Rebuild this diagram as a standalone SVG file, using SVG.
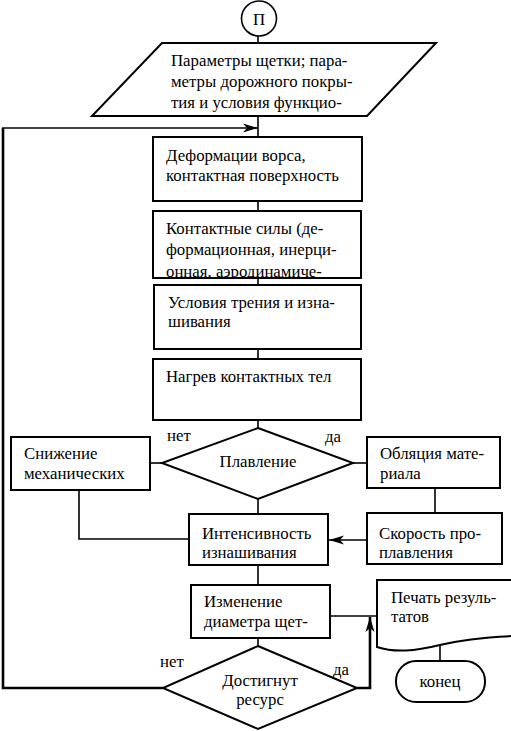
<svg xmlns="http://www.w3.org/2000/svg" width="511" height="731" viewBox="0 0 511 731" font-family="'Liberation Serif', 'DejaVu Serif', serif" font-size="16.8">
<style>
.box{fill:#fff;stroke:#000;stroke-width:2}
.ln{fill:none;stroke:#000;stroke-width:1.6}
.thick{fill:none;stroke:#000;stroke-width:2.6}
text{font-family:'Liberation Serif','DejaVu Serif',serif;font-size:16.8px;fill:#000}
.c{text-anchor:middle}
</style>
<defs>
<marker id="ah" markerUnits="userSpaceOnUse" markerWidth="16" markerHeight="10" refX="15" refY="5" orient="auto">
<path d="M0,0.5 L15,5 L0,9.5 L4,5 Z" fill="#000"/>
</marker>
<clipPath id="cl2"><rect x="154" y="212" width="206" height="65"/></clipPath>
</defs>
<rect width="511" height="731" fill="#fff"/>
<g id="connectors">
<line class="ln" x1="258" y1="36" x2="258" y2="43"/>
<line class="ln" x1="258" y1="116" x2="258" y2="137"/>
<line class="ln" x1="258" y1="201" x2="258" y2="211"/>
<line class="ln" x1="258" y1="278" x2="258" y2="285"/>
<line class="ln" x1="258" y1="349" x2="258" y2="359"/>
<line class="ln" x1="258" y1="420" x2="258" y2="428"/>
<line class="ln" x1="162" y1="463" x2="150" y2="463"/>
<line class="ln" x1="353" y1="463" x2="367" y2="463"/>
<line class="ln" x1="435" y1="488" x2="435" y2="513"/>
<line class="ln" x1="258" y1="499" x2="258" y2="514"/>
<polyline class="ln" points="79,490 79,539 189,539"/>
<line class="ln" x1="367" y1="540" x2="329" y2="540" marker-end="url(#ah)"/>
<line class="ln" x1="258" y1="565" x2="258" y2="585"/>
<line class="ln" x1="258" y1="638" x2="258" y2="646"/>
<line class="ln" x1="330" y1="616" x2="377" y2="616"/>
<polyline class="thick" points="357,688 370,688 370,617" marker-end="url(#ah)"/>
<polyline class="thick" points="163,688 3,688 3,128"/>
<line class="ln" x1="2" y1="128" x2="258" y2="128" stroke-width="2" marker-end="url(#ah)"/>
<line class="ln" x1="440" y1="646" x2="440" y2="661"/>
</g>
<g id="start">
<circle cx="259" cy="18.5" r="17.5" fill="#fff" stroke="#000" stroke-width="1.6"/>
<text class="c" x="259" y="25">П</text>
</g>
<g id="input">
<polygon class="box" points="162,43 436,43 367,116 92,116"/>
<text x="171" y="66">Параметры щетки; пара-</text>
<text x="171" y="87">метры дорожного покры-</text>
<text x="171" y="108">тия и условия функцио-</text>
</g>
<g id="deform">
<rect class="box" x="153" y="137" width="209" height="64"/>
<text x="166" y="161">Деформации ворса,</text>
<text x="166" y="181">контактная поверхность</text>
</g>
<g id="forces">
<rect class="box" x="153" y="211" width="208" height="67"/>
<g clip-path="url(#cl2)">
<text x="166" y="234">Контактные силы (де-</text>
<text x="166" y="255">формационная, инерци-</text>
<text x="166" y="277">онная, аэродинамиче-</text>
</g>
</g>
<g id="friction">
<rect class="box" x="154" y="285" width="207" height="64"/>
<text x="168" y="308">Условия трения и изна-</text>
<text x="168" y="327">шивания</text>
</g>
<g id="heat">
<rect class="box" x="153" y="359" width="208" height="61"/>
<text x="166" y="382">Нагрев контактных тел</text>
</g>
<g id="melt">
<polygon class="box" points="258,428 353,463 258,499 162,463"/>
<text class="c" x="258" y="467">Плавление</text>
<text x="167" y="441">нет</text>
<text x="325" y="442">да</text>
</g>
<g id="decrease">
<rect class="box" x="11" y="437" width="139" height="53"/>
<text x="24" y="459">Снижение</text>
<text x="24" y="479">механических</text>
</g>
<g id="ablation">
<rect class="box" x="367" y="437" width="133" height="51"/>
<text x="380" y="459">Обляция мате-</text>
<text x="380" y="479">риала</text>
</g>
<g id="rate">
<rect class="box" x="367" y="513" width="135" height="51"/>
<text x="379" y="539">Скорость про-</text>
<text x="379" y="558">плавления</text>
</g>
<g id="intensity">
<rect class="box" x="189" y="514" width="139" height="51"/>
<text x="202" y="539">Интенсивность</text>
<text x="202" y="558">изнашивания</text>
</g>
<g id="diameter">
<rect class="box" x="191" y="585" width="139" height="53"/>
<text x="204" y="607">Изменение</text>
<text x="204" y="627">диаметра щет-</text>
</g>
<g id="resource">
<polygon class="box" points="258,646 357,688 258,729 163,688"/>
<text class="c" x="260" y="686">Достигнут</text>
<text class="c" x="260" y="705">ресурс</text>
<text x="160" y="667">нет</text>
<text x="333" y="675">да</text>
</g>
<g id="print">
<path class="box" d="M377,580 H513 V636 C490,637 460,640 440,645 C415,651 395,653 377,647 Z"/>
<text x="391" y="603">Печать резуль-</text>
<text x="391" y="622">татов</text>
</g>
<g id="end">
<rect class="box" x="396" y="661" width="89" height="41" rx="20"/>
<text class="c" x="440" y="687">конец</text>
</g>
</svg>
